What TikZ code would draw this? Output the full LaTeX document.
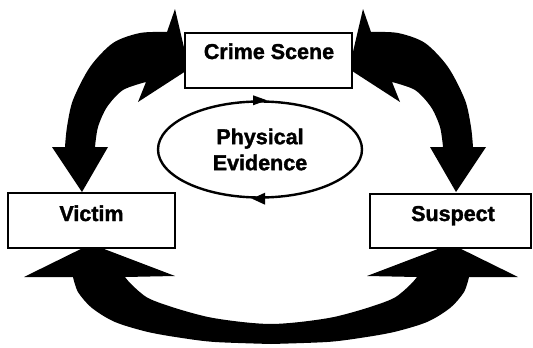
\documentclass[tikz,border=0pt]{standalone}
\usepackage{fontspec}
\setmainfont{Liberation Sans}
\newfontfamily\heavyfont[BoldFeatures={FakeBold=1.6}]{Liberation Sans}
\usetikzlibrary{shapes.geometric}
\begin{document}
\begin{tikzpicture}[x=1pt,y=-1pt,
  bigarrow/.style={fill=black},
  boxstyle/.style={draw=black, fill=white, line width=2.6pt, rectangle, inner sep=0pt},
  lbl/.style={font=\fontsize{21.5}{26}\selectfont\heavyfont\bfseries, inner sep=0pt, anchor=base},
  ellstyle/.style={draw=black, line width=2.4pt, ellipse, inner sep=0pt, align=center,
    minimum width=204pt, minimum height=96pt, font=\fontsize{21.5}{26}\selectfont\heavyfont\bfseries},
  smallhead/.style={fill=black}]
\useasboundingbox (0,0) rectangle (533,348);
% left curved double arrow
\fill[bigarrow] (175,9) -- (189,69) -- (138,102) -- (146,82)
  -- plot[smooth] coordinates {(146,82) (123,90) (107,107) (98,127) (95,147)}
  -- (108,147) -- (82,192) -- (52,147) -- (65,147)
  -- plot[smooth] coordinates {(65,147) (67,127) (73,100) (90,67) (113,43) (140,33) (167,32)}
  -- cycle;
% right curved double arrow (mirror)
\begin{scope}[shift={(538,0)}, xscale=-1]
\fill[bigarrow] (175,9) -- (189,69) -- (138,102) -- (146,82)
  -- plot[smooth] coordinates {(146,82) (123,90) (107,107) (98,127) (95,147)}
  -- (108,147) -- (82,192) -- (52,147) -- (65,147)
  -- plot[smooth] coordinates {(65,147) (67,127) (73,100) (90,67) (113,43) (140,33) (167,32)}
  -- cycle;
\end{scope}
% bottom curved double arrow
\fill[bigarrow] (271,344)
  -- plot[smooth] coordinates {(271,344) (215,342) (182,338) (148,332) (115,322) (92,308) (78,292) (73,277)}
  -- (24,277) -- (91,244) -- (175,276) -- (125,277)
  -- plot[smooth] coordinates {(125,277) (132,285) (148,298) (175,308) (208,317) (242,322) (271,324) (300,322) (334,317) (367,308) (394,298) (410,285) (417,277)}
  -- (367,276) -- (451,244) -- (518,277) -- (469,277)
  -- plot[smooth] coordinates {(469,277) (464,292) (450,308) (427,322) (394,332) (360,338) (327,342) (271,344)}
  -- cycle;
% boxes
\node[boxstyle, minimum width=167pt, minimum height=55pt] (crime) at (268.5,60.5) {};
\node[boxstyle, minimum width=167pt, minimum height=55pt] (victim) at (91.5,220.5) {};
\node[boxstyle, minimum width=161pt, minimum height=54pt] (suspect) at (450.5,221) {};
\node[lbl] (crimelbl) at (269,59) {Crime Scene};
\node[lbl] (victimlbl) at (91.5,221) {Victim};
\node[lbl] (suspectlbl) at (453,221) {Suspect};
% ellipse
\node[ellstyle] (ev) at (260,149.5) {Physical\\Evidence};
\fill[smallhead] ([xshift=7pt]ev.north) -- ([xshift=-7pt,yshift=5pt]ev.north) -- ([xshift=-7pt,yshift=-5pt]ev.north) -- cycle;
\fill[smallhead] ([xshift=-8pt]ev.south) -- ([xshift=5pt,yshift=6pt]ev.south) -- ([xshift=5pt,yshift=-6pt]ev.south) -- cycle;
\end{tikzpicture}
\end{document}
